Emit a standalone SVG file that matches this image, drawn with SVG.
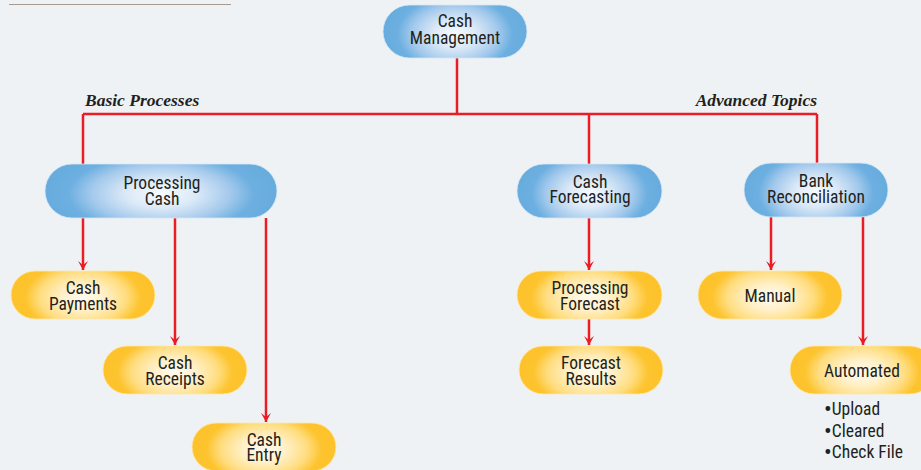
<svg xmlns="http://www.w3.org/2000/svg" width="921" height="470" viewBox="0 0 921 470">
<defs>
<radialGradient id="gBlue" cx="0.5" cy="0.55" r="0.5" gradientTransform="translate(0.5,0.55) scale(1,1.8) translate(-0.5,-0.55)">
<stop offset="0" stop-color="#f7fbfe"/>
<stop offset="0.3" stop-color="#dbe9f7"/>
<stop offset="0.6" stop-color="#a3c9ec"/>
<stop offset="0.8" stop-color="#6cafe0"/>
<stop offset="1" stop-color="#68acde"/>
</radialGradient>
<radialGradient id="gYellow" cx="0.5" cy="0.55" r="0.5" gradientTransform="translate(0.5,0.55) scale(1,1.8) translate(-0.5,-0.55)">
<stop offset="0" stop-color="#fffbef"/>
<stop offset="0.3" stop-color="#fff0c8"/>
<stop offset="0.6" stop-color="#ffdd80"/>
<stop offset="0.8" stop-color="#fdc42f"/>
<stop offset="1" stop-color="#fdc22b"/>
</radialGradient>
<marker id="arr" markerUnits="userSpaceOnUse" markerWidth="10" markerHeight="11" viewBox="0 0 10 11" refX="9.5" refY="5.5" orient="auto">
<path d="M0.5,0.5 L9.5,5.5 L0.5,10.5 L4.5,5.5 Z" fill="#ec1c24"/>
</marker>
</defs>
<style>
.bg{fill:#eef2f4}
.blue{fill:url(#gBlue);stroke:#d6e7f6;stroke-width:0.8}
.yellow{fill:url(#gYellow);stroke:#ffe9a8;stroke-width:0.8}
.lbl{font-family:"Liberation Sans Narrow","Roboto Condensed","DejaVu Sans Condensed","Liberation Sans",sans-serif;font-size:17.5px;fill:#231f20;text-anchor:middle}
.sec{font-family:"Liberation Serif","Times New Roman",serif;font-style:italic;font-weight:bold;font-size:17.5px;fill:#231f20}
.conn{fill:none;stroke:#ec1c24;stroke-width:2.5}
.bul{font-family:"Liberation Sans Narrow","Roboto Condensed","DejaVu Sans Condensed","Liberation Sans",sans-serif;font-size:17.5px;fill:#231f20}
.dot{font-size:23px}
</style>
<rect class="bg" x="0" y="0" width="921" height="470"/>
<line x1="9" y1="4.5" x2="231" y2="4.5" stroke="#a59b90" stroke-width="1.2"/>
<text class="sec" x="85" y="106">Basic Processes</text>
<text class="sec" x="817" y="106" text-anchor="end">Advanced Topics</text>
<g id="connectors">
<path class="conn" d="M457,58 V114"/>
<path class="conn" d="M83,114 H817"/>
<path class="conn" d="M83,114 V164"/>
<path class="conn" d="M589,114 V164"/>
<path class="conn" d="M817,114 V163"/>
<path class="conn" d="M83,218 V270" marker-end="url(#arr)"/>
<path class="conn" d="M175,218 V345" marker-end="url(#arr)"/>
<path class="conn" d="M266,218 V422" marker-end="url(#arr)"/>
<path class="conn" d="M589,218 V270" marker-end="url(#arr)"/>
<path class="conn" d="M589,319 V345" marker-end="url(#arr)"/>
<path class="conn" d="M771,217 V270" marker-end="url(#arr)"/>
<path class="conn" d="M863,217 V345" marker-end="url(#arr)"/>
</g>
<g id="cash-management">
<rect class="blue" x="383" y="5" width="144" height="53" rx="26.5"/>
<text class="lbl" x="455" y="27">Cash</text>
<text class="lbl" x="455" y="43.5">Management</text>
</g>
<g id="processing-cash">
<rect class="blue" x="45" y="164" width="232" height="54" rx="27"/>
<text class="lbl" x="162" y="188.5">Processing</text>
<text class="lbl" x="162" y="205">Cash</text>
</g>
<g id="cash-forecasting">
<rect class="blue" x="517" y="164" width="145" height="54" rx="27"/>
<text class="lbl" x="590" y="187.5">Cash</text>
<text class="lbl" x="590" y="203">Forecasting</text>
</g>
<g id="bank-reconciliation">
<rect class="blue" x="744" y="163" width="144" height="54" rx="27"/>
<text class="lbl" x="816" y="187">Bank</text>
<text class="lbl" x="816" y="202.5">Reconciliation</text>
</g>
<g id="cash-payments">
<rect class="yellow" x="11" y="271" width="144" height="48" rx="24"/>
<text class="lbl" x="83" y="293.5">Cash</text>
<text class="lbl" x="83" y="309.5">Payments</text>
</g>
<g id="cash-receipts">
<rect class="yellow" x="103" y="346" width="144" height="48" rx="24"/>
<text class="lbl" x="175" y="369">Cash</text>
<text class="lbl" x="175" y="384.5">Receipts</text>
</g>
<g id="cash-entry">
<rect class="yellow" x="192" y="423" width="144" height="48" rx="24"/>
<text class="lbl" x="264" y="445.5">Cash</text>
<text class="lbl" x="264" y="461">Entry</text>
</g>
<g id="processing-forecast">
<rect class="yellow" x="517" y="271" width="145" height="48" rx="24"/>
<text class="lbl" x="590" y="294">Processing</text>
<text class="lbl" x="590" y="309.5">Forecast</text>
</g>
<g id="forecast-results">
<rect class="yellow" x="519" y="346" width="144" height="48" rx="24"/>
<text class="lbl" x="591" y="369">Forecast</text>
<text class="lbl" x="591" y="384.5">Results</text>
</g>
<g id="manual">
<rect class="yellow" x="698" y="271" width="144" height="48" rx="24"/>
<text class="lbl" x="770" y="302">Manual</text>
</g>
<g id="automated">
<rect class="yellow" x="790" y="346" width="144" height="48" rx="24"/>
<text class="lbl" x="862" y="376.5">Automated</text>
<text class="bul" x="824" y="415"><tspan class="dot" baseline-shift="-2">•</tspan>Upload</text>
<text class="bul" x="824" y="436.5"><tspan class="dot" baseline-shift="-2">•</tspan>Cleared</text>
<text class="bul" x="824" y="457.5"><tspan class="dot" baseline-shift="-2">•</tspan>Check File</text>
</g>
</svg>
